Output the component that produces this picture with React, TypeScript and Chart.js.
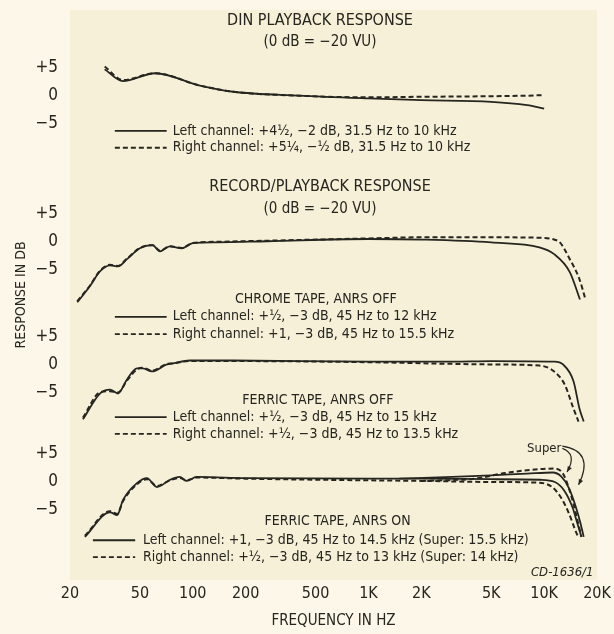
import React, { useEffect, useRef } from "react";
import { Chart, registerables } from "chart.js";
Chart.register(...registerables);

const FONT = '"Liberation Sans Narrow", "DejaVu Sans Condensed", "Roboto Condensed", Roboto, sans-serif';
const INK = "#26251f";
const PAGE_BG = "#fcf7e8";
const PLOT_BG = "#f5f0d7";

// ---------- axis ticks ----------
const xTickValues = [20, 50, 100, 200, 500, 1000, 2000, 5000, 10000, 20000];
const xTickLabels = ["20", "50", "100", "200", "500", "1K", "2K", "5K", "10K", "20K"];
const yRelTicks = [5, 0, -5];
const yRelLabels = ["+5", "0", "\u22125"];

// ---------- panel 1: DIN playback ----------
const dinFreq = [31.5, 40, 61, 110, 170, 400, 1000, 2000, 5000, 8000, 10000];
const dinLeft = [4.7, 2.6, 4.0, 1.8, 0.7, 0, -0.5, -0.8, -1.1, -1.7, -2.3];
const dinRight = [5.2, 2.8, 4.0, 1.8, 0.7, 0, -0.3, -0.2, -0.1, 0, 0.1];

// ---------- panel 2: chrome tape, ANRS off ----------
const chromeFreqL = [22, 26, 29.6, 33.8, 37.5, 42.2, 50, 59, 65, 74, 86.6, 100, 137, 265, 1000, 2000, 5000, 9400, 11400, 14000, 16000];
const chromeLeft = [-10.9, -8.0, -5.4, -4.3, -4.5, -3.2, -1.25, -0.7, -1.8, -0.9, -1.25, -0.35, -0.2, 0, 0.4, 0.3, -0.2, -1.1, -2.3, -5.5, -10.4];
const chromeFreqR = [22, 26, 29.6, 33.8, 37.5, 42.2, 50, 59, 65, 74, 86.6, 100, 137, 265, 1000, 2000, 5000, 10000, 11400, 12300, 14000, 15900, 17200];
const chromeRight = [-10.7, -7.9, -5.3, -4.2, -4.4, -3.1, -1.2, -0.7, -1.7, -0.9, -1.2, -0.3, -0.1, 0.1, 0.5, 0.7, 0.7, 0.6, 0.3, -0.2, -3.2, -6.8, -10.4];

// ---------- panel 3: ferric tape, ANRS off ----------
const ferOffFreqL = [23.7, 29.6, 33.8, 37.5, 42.2, 48.1, 51.8, 58.6, 71.3, 77.4, 96, 170, 1000, 3000, 5000, 11400, 12800, 14700, 15900, 16800];
const ferOffLeft = [-9.8, -5.2, -4.5, -5.2, -2.7, -0.7, -0.7, -1.25, 0, 0.2, 0.7, 0.7, 0.5, 0.5, 0.6, 0.5, 0, -3.0, -7.9, -10.2];
const ferOffFreqR = [23.7, 29.6, 33.8, 37.5, 42.2, 48.1, 51.8, 58.6, 71.3, 77.4, 96, 170, 1000, 3000, 5000, 9400, 11400, 13100, 14700, 15700];
const ferOffRight = [-9.5, -5.0, -4.8, -5.0, -2.9, -0.9, -0.6, -1.1, 0.1, 0.2, 0.6, 0.6, 0.4, 0.1, 0, -0.2, -1.25, -3.6, -7.9, -10.2];

// ---------- panel 4: ferric tape, ANRS on ----------
const ferOnFreqL = [24.3, 33.8, 37.1, 40.1, 48.1, 54.8, 62.5, 74.2, 84.2, 92.4, 105, 200, 1000, 2000, 5000, 9500, 11500, 13000, 14500, 15500, 16300];
const ferOnLeft = [-9.8, -5.4, -5.9, -3.2, -0.2, 0.7, -0.9, 0.4, 0.9, 0.2, 0.9, 0.7, 0.6, 0.6, 0.5, 0.4, 0, -1.5, -4.5, -7.5, -9.8];
const ferOnFreqR = [24.3, 33.8, 37.1, 40.1, 48.1, 54.8, 62.5, 74.2, 84.2, 92.4, 105, 200, 1000, 2000, 5000, 9000, 11000, 12500, 13800, 15000, 15600];
const ferOnRight = [-9.6, -5.2, -5.7, -3.4, -0.4, 0.5, -0.7, 0.3, 0.7, 0.3, 0.8, 0.6, 0.3, 0.2, 0, -0.1, -0.8, -2.8, -5.5, -8.5, -9.8];
const ferOnFreqLS = [1500, 3000, 5000, 8000, 11200, 12500, 13800, 15000, 16000, 16800];
const ferOnLeftSuper = [0.6, 0.9, 1.2, 1.5, 1.7, 1.0, -1.0, -4.0, -7.0, -9.8];
const ferOnFreqRS = [2000, 4000, 6000, 8000, 11500, 12800, 13800, 15000, 15800, 16300];
const ferOnRightSuper = [0.2, 0.6, 1.6, 2.1, 2.4, 1.5, -1.0, -5.0, -8.0, -9.8];

// ---------- layout of the stacked panels (axis units) ----------
const OFF_DIN = 69;
const OFF_CHROME = 43;
const OFF_FER_OFF = 21;
const OFF_FER_ON = 0;
const Y_MIN = -17.5;
const Y_MAX = 84.3;
const PANEL_OFFSETS = [OFF_DIN, OFF_CHROME, OFF_FER_OFF, OFF_FER_ON];

// ---------- annotation texts ----------
const TITLE_DIN = "DIN PLAYBACK RESPONSE";
const TITLE_RP = "RECORD/PLAYBACK RESPONSE";
const SUBTITLE = "(0 dB = \u221220 VU)";
const HEAD_CHROME = "CHROME TAPE, ANRS OFF";
const HEAD_FER_OFF = "FERRIC TAPE, ANRS OFF";
const HEAD_FER_ON = "FERRIC TAPE, ANRS ON";
const LEG_DIN = ["Left channel: +4\u00bd, \u22122 dB, 31.5 Hz to 10 kHz", "Right channel: +5\u00bc, \u2212\u00bd dB, 31.5 Hz to 10 kHz"];
const LEG_CHROME = ["Left channel: +\u00bd, \u22123 dB, 45 Hz to 12 kHz", "Right channel: +1, \u22123 dB, 45 Hz to 15.5 kHz"];
const LEG_FER_OFF = ["Left channel: +\u00bd, \u22123 dB, 45 Hz to 15 kHz", "Right channel: +\u00bd, \u22123 dB, 45 Hz to 13.5 kHz"];
const LEG_FER_ON = ["Left channel: +1, \u22123 dB, 45 Hz to 14.5 kHz (Super: 15.5 kHz)", "Right channel: +\u00bd, \u22123 dB, 45 Hz to 13 kHz (Super: 14 kHz)"];
const CODE = "CD-1636/1";
const SUPER = "Super";

function series(freqs: number[], vals: number[], off: number) {
  return freqs.map((f, i) => ({ x: f, y: vals[i] + off }));
}

function ds(label: string, freqs: number[], vals: number[], off: number, dashed: boolean) {
  return {
    label,
    data: series(freqs, vals, off),
    showLine: true,
    borderColor: INK,
    backgroundColor: INK,
    borderWidth: dashed ? 2 : 1.8,
    borderDash: dashed ? [5, 3] : [],
    pointRadius: 0,
    cubicInterpolationMode: "monotone" as const,
    fill: false,
  };
}

const bgPlugin = {
  id: "bgPlugin",
  beforeDraw(chart: any) {
    const { ctx, chartArea } = chart;
    ctx.save();
    ctx.fillStyle = PAGE_BG;
    ctx.fillRect(0, 0, chart.width, chart.height);
    ctx.fillStyle = PLOT_BG;
    ctx.fillRect(chartArea.left, chartArea.top, chartArea.right - chartArea.left, chartArea.bottom - chartArea.top);
    ctx.restore();
  },
};

const annoPlugin = {
  id: "annoPlugin",
  afterDatasetsDraw(chart: any) {
    const { ctx } = chart;
    const xs = chart.scales.x;
    const ys = chart.scales.y;
    const X = (f: number) => xs.getPixelForValue(f);
    const Y = (v: number) => ys.getPixelForValue(v);
    ctx.save();
    ctx.fillStyle = INK;
    ctx.strokeStyle = INK;
    ctx.textBaseline = "middle";
    const text = (t: string, f: number, v: number, size: number, align: CanvasTextAlign, bold = false, italic = false) => {
      ctx.font = `${italic ? "italic " : ""}${bold ? "bold " : ""}${size}px ${FONT}`;
      ctx.textAlign = align;
      ctx.fillText(t, X(f), Y(v));
    };
    const sample = (f1: number, f2: number, v: number, dashed: boolean) => {
      ctx.beginPath();
      ctx.lineWidth = 1.8;
      ctx.setLineDash(dashed ? [5, 3] : []);
      ctx.moveTo(X(f1), Y(v));
      ctx.lineTo(X(f2), Y(v));
      ctx.stroke();
      ctx.setLineDash([]);
    };
    // DIN panel
    text(TITLE_DIN, 530, 82.3, 16, "center");
    text(SUBTITLE, 530, 78.6, 15, "center");
    sample(36, 71, 62.7, false);
    sample(36, 71, 59.7, true);
    text(LEG_DIN[0], 77, 62.7, 14, "left");
    text(LEG_DIN[1], 77, 59.7, 14, "left");
    // record/playback
    text(TITLE_RP, 530, 52.7, 16, "center");
    text(SUBTITLE, 530, 48.8, 15, "center");
    // chrome
    text(HEAD_CHROME, 502, 32.7, 14, "center");
    sample(36, 71, 29.5, false);
    sample(36, 71, 26.4, true);
    text(LEG_CHROME[0], 77, 29.5, 14, "left");
    text(LEG_CHROME[1], 77, 26.4, 14, "left");
    // ferric off
    text(HEAD_FER_OFF, 515, 14.6, 14, "center");
    sample(36, 71, 11.6, false);
    sample(36, 71, 8.6, true);
    text(LEG_FER_OFF[0], 77, 11.6, 14, "left");
    text(LEG_FER_OFF[1], 77, 8.6, 14, "left");
    // ferric on
    text(HEAD_FER_ON, 667, -7.0, 14, "center");
    sample(27, 47, -10.4, false);
    sample(27, 47, -13.4, true);
    text(LEG_FER_ON[0], 52, -10.4, 14, "left");
    text(LEG_FER_ON[1], 52, -13.4, 14, "left");
    // code
    text(CODE, 19100, -16.1, 13, "right", false, true);
    // Super label + arrows
    text(SUPER, 8000, 5.9, 13, "left");
    ctx.lineWidth = 1.2;
    const arrow = (f0: number, v0: number, fc: number, vc: number, f1: number, v1: number) => {
      const x0 = X(f0), y0 = Y(v0), xc = X(fc), yc = Y(vc), x1 = X(f1), y1 = Y(v1);
      ctx.beginPath();
      ctx.moveTo(x0, y0);
      ctx.quadraticCurveTo(xc, yc, x1, y1);
      ctx.stroke();
      const ang = Math.atan2(y1 - yc, x1 - xc);
      ctx.beginPath();
      ctx.moveTo(x1, y1);
      ctx.lineTo(x1 - 6 * Math.cos(ang - 0.4), y1 - 6 * Math.sin(ang - 0.4));
      ctx.lineTo(x1 - 6 * Math.cos(ang + 0.4), y1 - 6 * Math.sin(ang + 0.4));
      ctx.closePath();
      ctx.fill();
    };
    arrow(12700, 6.4, 19500, 5.5, 15700, -0.5);
    arrow(12700, 6.0, 15500, 5.0, 13500, 1.8);
    ctx.restore();
  },
};

export default function App() {
  const ref = useRef<HTMLCanvasElement | null>(null);
  useEffect(() => {
    if (!ref.current) return;
    const yTicks: number[] = [];
    PANEL_OFFSETS.forEach((o) => yRelTicks.forEach((r) => yTicks.push(o + r)));
    const chart = new Chart(ref.current, {
      type: "scatter",
      data: {
        datasets: [
          ds("DIN L", dinFreq, dinLeft, OFF_DIN, false),
          ds("DIN R", dinFreq, dinRight, OFF_DIN, true),
          ds("Chrome L", chromeFreqL, chromeLeft, OFF_CHROME, false),
          ds("Chrome R", chromeFreqR, chromeRight, OFF_CHROME, true),
          ds("Ferric off L", ferOffFreqL, ferOffLeft, OFF_FER_OFF, false),
          ds("Ferric off R", ferOffFreqR, ferOffRight, OFF_FER_OFF, true),
          ds("Ferric on L", ferOnFreqL, ferOnLeft, OFF_FER_ON, false),
          ds("Ferric on R", ferOnFreqR, ferOnRight, OFF_FER_ON, true),
          ds("Ferric on L super", ferOnFreqLS, ferOnLeftSuper, OFF_FER_ON, false),
          ds("Ferric on R super", ferOnFreqRS, ferOnRightSuper, OFF_FER_ON, true),
        ] as any,
      },
      options: {
        animation: false,
        responsive: false,
        maintainAspectRatio: false,
        layout: { padding: { left: 8, right: 17, top: 10, bottom: 0 } },
        plugins: { legend: { display: false }, tooltip: { enabled: false } },
        scales: {
          x: {
            type: "logarithmic",
            min: 20,
            max: 20000,
            grid: { display: false, drawTicks: false },
            border: { display: false },
            afterBuildTicks: (s: any) => {
              s.ticks = xTickValues.map((v) => ({ value: v }));
            },
            afterFit: (s: any) => {
              s.height = 54;
              s.paddingLeft = 0;
              s.paddingRight = 0;
            },
            ticks: {
              autoSkip: false,
              maxRotation: 0,
              padding: 4,
              color: INK,
              font: { family: FONT, size: 16 },
              callback: (v: any) => {
                const i = xTickValues.indexOf(Number(v));
                return i >= 0 ? xTickLabels[i] : "";
              },
            },
            title: {
              display: true,
              text: "FREQUENCY IN HZ",
              color: INK,
              font: { family: FONT, size: 15 },
              padding: { top: 0, bottom: 4 },
            },
          },
          y: {
            type: "linear",
            min: Y_MIN,
            max: Y_MAX,
            grid: { display: false, drawTicks: false },
            border: { display: false },
            afterBuildTicks: (s: any) => {
              s.ticks = yTicks.map((v) => ({ value: v }));
            },
            afterFit: (s: any) => {
              s.width = 62;
              s.paddingTop = 0;
              s.paddingBottom = 0;
            },
            ticks: {
              autoSkip: false,
              padding: 12,
              color: INK,
              font: { family: FONT, size: 17 },
              callback: (v: any) => {
                const val = Number(v);
                let best = 0;
                let bd = Infinity;
                PANEL_OFFSETS.forEach((o) => {
                  const d = Math.abs(val - o);
                  if (d < bd) {
                    bd = d;
                    best = o;
                  }
                });
                const i = yRelTicks.indexOf(Math.round(val - best));
                return i >= 0 ? yRelLabels[i] : "";
              },
            },
            title: {
              display: true,
              text: "RESPONSE IN DB",
              color: INK,
              font: { family: FONT, size: 14 },
              padding: { top: 5, bottom: 0 },
            },
          },
        },
      },
      plugins: [bgPlugin, annoPlugin],
    });
    return () => chart.destroy();
  }, []);
  return (
    <div style={{ position: "fixed", left: 0, top: 0, width: 614, height: 634, background: PAGE_BG }}>
      <canvas ref={ref} width={614} height={634} style={{ width: 614, height: 634, display: "block" }} />
    </div>
  );
}
